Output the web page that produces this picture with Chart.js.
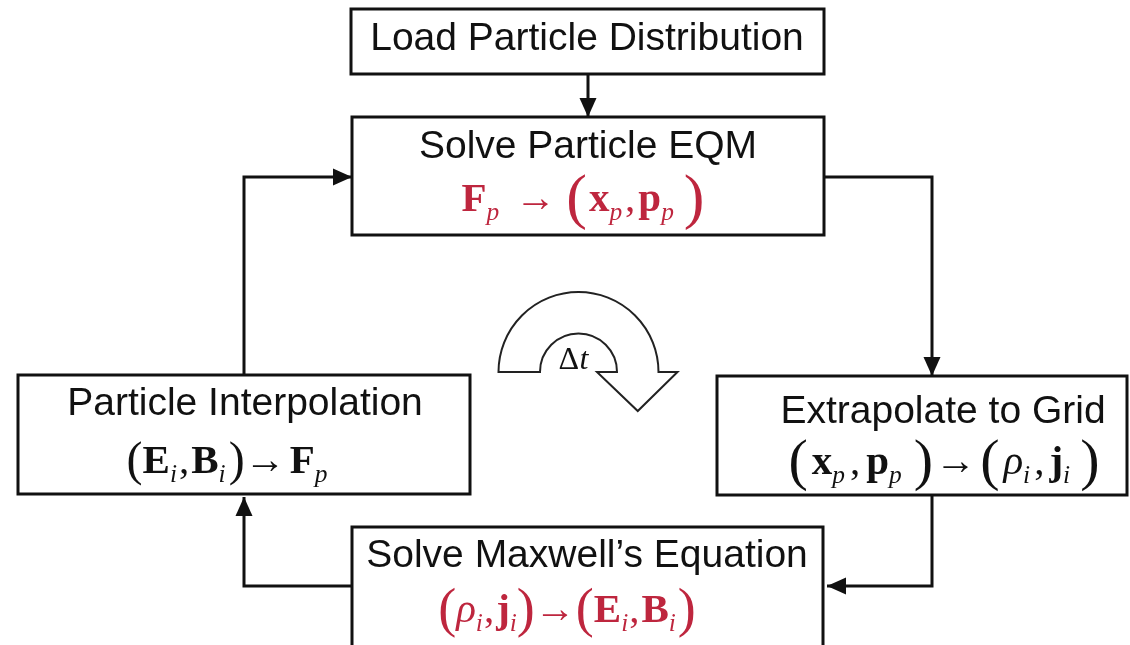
<!DOCTYPE html>
<html>
<head>
<meta charset="utf-8">
<script src="https://cdn.jsdelivr.net/npm/chart.js@4.4.0/dist/chart.umd.min.js"></script>
<style>
	html, body { margin: 0; padding: 0; background: #fff; }
	#wrap { width: 1130px; height: 645px; }
</style>
</head>
<body>
<div id="wrap"><canvas id="flow" width="1130" height="645"></canvas></div>
<script>
/* Small helpers to describe the formula pieces. */
function B(t) { return { t: t, weight: 'bold', style: 'normal', scale: 1, dy: 0 }; }
function T(t) { return { t: t, weight: 'normal', style: 'normal', scale: 1, dy: 0 }; }
function I(t) { return { t: t, weight: 'normal', style: 'italic', scale: 1, dy: 0 }; }
function S(t) { return { t: t, weight: 'normal', style: 'italic', scale: 0.62, dy: 9 }; }
function P(t) { return { t: t, weight: 'normal', style: 'normal', scale: 'paren', dy: 'paren' }; }
function G(w) { return { gap: w }; }

// Steps of the loop
const stepTitles = [
	'Load Particle Distribution',
	'Solve Particle EQM',
	'Particle Interpolation',
	'Extrapolate to Grid',
	'Solve Maxwell\u2019s Equation',
];

const stepFormulas = [
	null,
	[B('F'), S('p'), G(16), T('\u2192'), G(10), P('('), G(2), B('x'), S('p'), G(3), T(','), G(3), B('p'), S('p'), G(10), P(')')],
	[P('('), B('E'), S('i'), G(2), T(','), G(2), B('B'), S('i'), G(3), P(')'), T('\u2192'), G(4), B('F'), S('p')],
	[P('('), G(4), B('x'), S('p'), G(5), T(','), G(6), B('p'), S('p'), G(12), P(')'), G(2), T('\u2192'), G(4), P('('), G(4), I('\u03c1'), S('i'), G(4), T(','), G(5), B('j'), S('i'), G(10), P(')')],
	[P('('), I('\u03c1'), S('i'), G(1), T(','), G(2), B('j'), S('i'), P(')'), T('\u2192'), P('('), B('E'), S('i'), G(1), T(','), G(2), B('B'), S('i'), G(2), P(')')],
];

// Flow edges: from step -> to step
const loopEdges = [[0, 1], [1, 3], [3, 4], [4, 2], [2, 1]];

const deltaLabel = ['\u0394', 't'];

/* Layout (chart units = pixels) */
const boxes = [
	{ x0: 351, y0: 9, x1: 824, y1: 74, tx: 587, ty: 50 },
	{ x0: 352, y0: 117, x1: 824, y1: 235, tx: 588, ty: 158, fx: 583, fy: 211, paren: 62, color: 'rgb(190, 38, 62)' },
	{ x0: 18, y0: 375, x1: 470, y1: 494, tx: 245, ty: 415, fx: 227, fy: 473, paren: 48, color: '#111' },
	{ x0: 717, y0: 376, x1: 1127, y1: 495, tx: 943, ty: 423, fx: 944, fy: 474, paren: 58, color: '#111' },
	{ x0: 352, y0: 527, x1: 823, y1: 662, tx: 587, ty: 567, fx: 567, fy: 622, paren: 54, color: 'rgb(190, 38, 62)' },
];
const rails = { left: 244, right: 932, top: 177, bottom: 586, mid: 588 };

function edgeRoute(from, to) {
	const a = boxes[from], b = boxes[to];
	if (from === 0) return [{ x: rails.mid, y: a.y1 }, { x: rails.mid, y: b.y0 }];
	if (from === 1) return [{ x: a.x1, y: rails.top }, { x: rails.right, y: rails.top }, { x: rails.right, y: b.y0 }];
	if (from === 3) return [{ x: rails.right, y: a.y1 }, { x: rails.right, y: rails.bottom }, { x: b.x1 + 4, y: rails.bottom }];
	if (from === 4) return [{ x: a.x0, y: rails.bottom }, { x: rails.left, y: rails.bottom }, { x: rails.left, y: b.y1 + 3 }];
	return [{ x: rails.left, y: a.y0 }, { x: rails.left, y: rails.top }, { x: b.x0, y: rails.top }];
}

function drawRich(ctx, segs, cx, base, size, parenSize, color) {
	const fam = '"Liberation Serif", "Times New Roman", serif';
	const items = segs.map((s) => {
		if (s.gap !== undefined) return { gap: s.gap, w: s.gap };
		const sz = s.scale === 'paren' ? parenSize : size * s.scale;
		const dy = s.dy === 'paren' ? (parenSize - size) * 0.28 : s.dy;
		const font = `${s.style} ${s.weight} ${sz}px ${fam}`;
		ctx.font = font;
		return { t: s.t, font: font, dy: dy, w: ctx.measureText(s.t).width };
	});
	const total = items.reduce((acc, it) => acc + it.w, 0);
	let x = cx - total / 2;
	ctx.fillStyle = color;
	ctx.textAlign = 'left';
	ctx.textBaseline = 'alphabetic';
	items.forEach((it) => {
		if (it.t) {
			ctx.font = it.font;
			ctx.fillText(it.t, x, base + it.dy);
		}
		x += it.w;
	});
}

const flowPlugin = {
	id: 'flowPlugin',
	beforeDatasetsDraw(chart) {
		const ctx = chart.ctx, sx = chart.scales.x, sy = chart.scales.y;
		ctx.save();
		ctx.lineWidth = 3;
		ctx.strokeStyle = '#111';
		ctx.fillStyle = '#fff';
		boxes.forEach((b) => {
			const x0 = sx.getPixelForValue(b.x0), x1 = sx.getPixelForValue(b.x1);
			const y0 = sy.getPixelForValue(b.y0), y1 = sy.getPixelForValue(b.y1);
			ctx.fillRect(x0, y0, x1 - x0, y1 - y0);
			ctx.strokeRect(x0, y0, x1 - x0, y1 - y0);
		});

		// Time step arrow
		const cx = sx.getPixelForValue(578.5), cy = sy.getPixelForValue(372);
		const ro = 80, ri = 38.5;
		ctx.lineWidth = 2;
		ctx.strokeStyle = '#222';
		ctx.beginPath();
		ctx.moveTo(cx - ro, cy);
		ctx.arc(cx, cy, ro, Math.PI, 2 * Math.PI);
		ctx.lineTo(cx + ro + 19, cy);
		ctx.lineTo(cx + (ro + ri) / 2, cy + 39);
		ctx.lineTo(cx + ri - 20, cy);
		ctx.lineTo(cx + ri, cy);
		ctx.arc(cx, cy, ri, 0, Math.PI, true);
		ctx.closePath();
		ctx.fill();
		ctx.stroke();
		ctx.fillStyle = '#111';
		ctx.font = 'normal 32px "Liberation Serif", serif';
		ctx.textBaseline = 'alphabetic';
		ctx.fillText(deltaLabel[0], cx - 20, cy - 3);
		ctx.font = 'italic 32px "Liberation Serif", serif';
		ctx.fillText(deltaLabel[1], cx + 1, cy - 3);
		ctx.restore();
	},
	afterDatasetsDraw(chart) {
		const ctx = chart.ctx, sx = chart.scales.x, sy = chart.scales.y;
		ctx.save();
		// Arrow heads at the end of every connector
		chart.data.datasets.forEach((ds, i) => {
			const pts = chart.getDatasetMeta(i).data;
			const p1 = pts[pts.length - 2], p2 = pts[pts.length - 1];
			const ang = Math.atan2(p2.y - p1.y, p2.x - p1.x);
			const len = 19, half = 8.5;
			ctx.fillStyle = '#111';
			ctx.beginPath();
			ctx.moveTo(p2.x, p2.y);
			ctx.lineTo(p2.x - len * Math.cos(ang) + half * Math.sin(ang), p2.y - len * Math.sin(ang) - half * Math.cos(ang));
			ctx.lineTo(p2.x - len * Math.cos(ang) - half * Math.sin(ang), p2.y - len * Math.sin(ang) + half * Math.cos(ang));
			ctx.closePath();
			ctx.fill();
		});

		// Titles and formulas
		boxes.forEach((b, i) => {
			ctx.fillStyle = '#111';
			ctx.font = '39px "Liberation Sans", Arial, sans-serif';
			ctx.textAlign = 'center';
			ctx.textBaseline = 'alphabetic';
			ctx.fillText(stepTitles[i], sx.getPixelForValue(b.tx), sy.getPixelForValue(b.ty));
			if (stepFormulas[i]) {
				drawRich(ctx, stepFormulas[i], sx.getPixelForValue(b.fx), sy.getPixelForValue(b.fy), 41, b.paren, b.color);
			}
		});
		ctx.restore();
	},
};

const flowChart = new Chart(document.getElementById('flow').getContext('2d'), {
	type: 'scatter',
	data: {
		datasets: loopEdges.map(([from, to]) => ({
			data: edgeRoute(from, to),
			showLine: true,
			borderColor: '#111',
			borderWidth: 3,
			pointRadius: 0,
			tension: 0,
			fill: false,
		})),
	},
	options: {
		responsive: false,
		maintainAspectRatio: false,
		animation: false,
		events: [],
		layout: { padding: 0 },
		scales: {
			x: { type: 'linear', min: 0, max: 1130, display: false },
			y: { type: 'linear', min: 0, max: 645, reverse: true, display: false },
		},
		plugins: {
			legend: { display: false },
			tooltip: { enabled: false },
		},
	},
	plugins: [flowPlugin],
});
</script>
</body>
</html>
